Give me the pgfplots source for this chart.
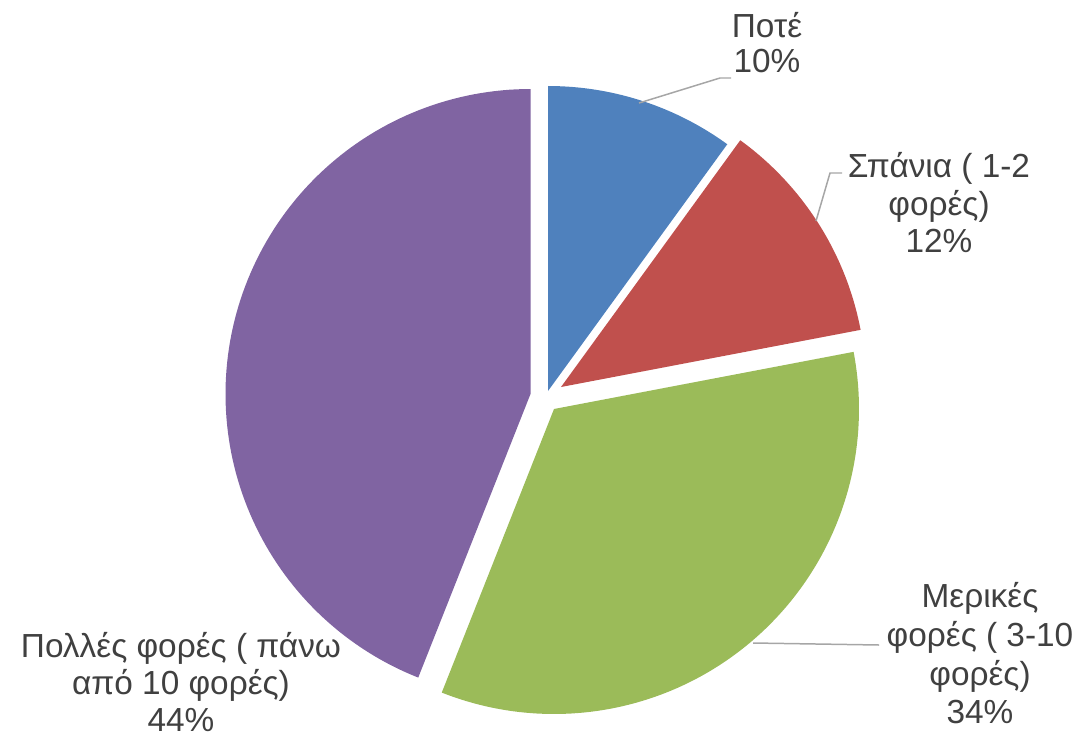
\documentclass[border=0pt]{standalone}
\usepackage{pgfplots}
\pgfplotsset{compat=1.18}
\usepackage{fontspec}
\setmainfont{Liberation Sans}
\definecolor{sBlue}{HTML}{4F81BD}
\definecolor{sRed}{HTML}{C0504D}
\definecolor{sGreen}{HTML}{9BBB59}
\definecolor{sPurple}{HTML}{8064A2}
\definecolor{txt}{HTML}{404040}
\definecolor{lead}{HTML}{A6A6A6}
\tikzset{lbl/.style={text=txt, font=\fontsize{33.5}{38}\selectfont, anchor=base}}
\begin{document}
\begin{tikzpicture}
% percentages
\def\vA{10}\def\vB{12}\def\vC{34}\def\vD{44}
\pgfmathsetmacro\aA{0}
\pgfmathsetmacro\aB{\aA+3.6*\vA}
\pgfmathsetmacro\aC{\aB+3.6*\vB}
\pgfmathsetmacro\aD{\aC+3.6*\vC}
\pgfmathsetmacro\aE{\aD+3.6*\vD}
\def\R{305}
\begin{axis}[scale only axis, width=1082bp, height=741bp,
  xmin=0, xmax=1082, ymin=0, ymax=741, y dir=reverse,
  hide axis, clip=false]
\path (rel axis cs:0,0) rectangle (rel axis cs:1,1);
% blue
\addplot[fill=sBlue, draw=none, domain=\aA:\aB, samples=60, variable=\t]
  ({548+\R*sin(\t)}, {391-\R*cos(\t)}) -- (axis cs:548,391) -- cycle;
% red
\addplot[fill=sRed, draw=none, domain=\aB:\aC, samples=60, variable=\t]
  ({561+\R*sin(\t)}, {387-\R*cos(\t)}) -- (axis cs:561,387) -- cycle;
% green
\addplot[fill=sGreen, draw=none, domain=\aC:\aD, samples=100, variable=\t]
  ({554+\R*sin(\t)}, {409-\R*cos(\t)}) -- (axis cs:554,409) -- cycle;
% purple
\addplot[fill=sPurple, draw=none, domain=\aD:\aE, samples=120, variable=\t]
  ({530.5+\R*sin(\t)}, {394-\R*cos(\t)}) -- (axis cs:530.5,394) -- cycle;
% leader lines
\addplot[lead, line width=1.5pt, no marks] coordinates {(639,103) (720,78) (731,78)};
\addplot[lead, line width=1.5pt, no marks] coordinates {(816,221) (830,173) (842,173)};
\addplot[lead, line width=1.5pt, no marks] coordinates {(753,643) (879,645)};
% labels
\node[lbl] at (axis cs:767,38) {Ποτέ};
\node[lbl] at (axis cs:767,73) {10\%};
\node[lbl] at (axis cs:939,178) {Σπάνια ( 1-2};
\node[lbl] at (axis cs:939,215) {φορές)};
\node[lbl] at (axis cs:939,252) {12\%};
\node[lbl] at (axis cs:980,607) {Μερικές};
\node[lbl] at (axis cs:980,646) {φορές ( 3-10};
\node[lbl] at (axis cs:980,685) {φορές)};
\node[lbl] at (axis cs:980,723) {34\%};
\node[lbl] at (axis cs:181,657) {Πολλές φορές ( πάνω};
\node[lbl] at (axis cs:181,694) {από 10 φορές)};
\node[lbl] at (axis cs:181,731) {44\%};
\end{axis}
\end{tikzpicture}
\end{document}
